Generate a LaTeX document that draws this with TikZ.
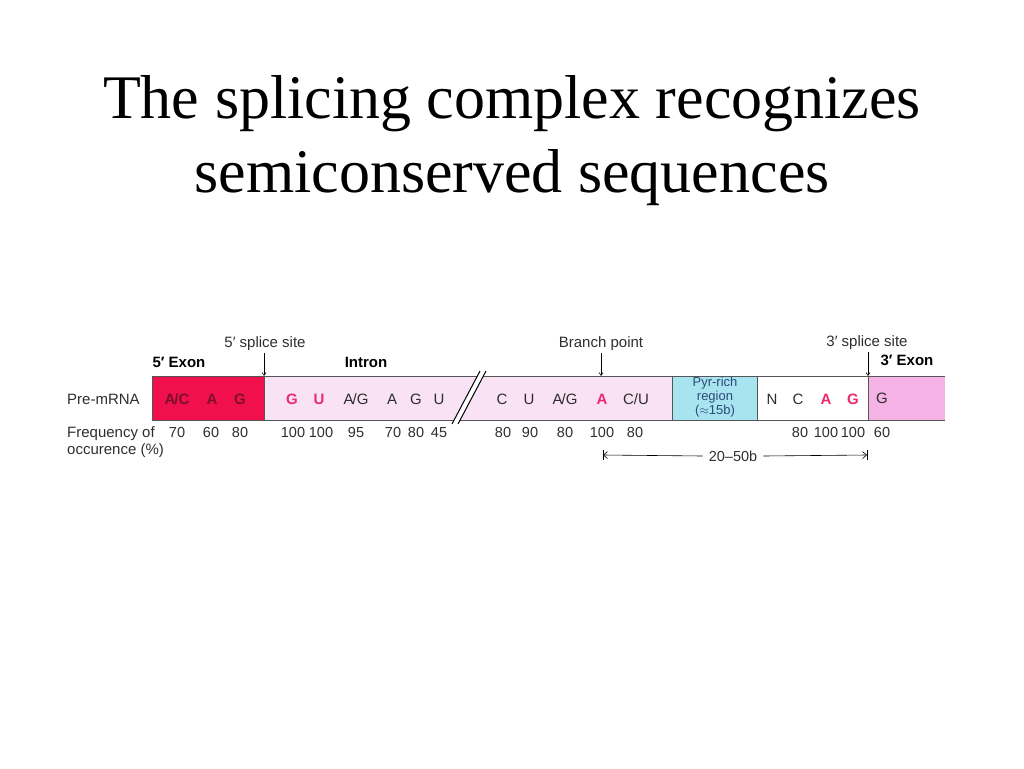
\documentclass[tikz,border=0pt]{standalone}
\usepackage{fontspec}
\setmainfont{Liberation Serif}
\newfontfamily\labfont{Liberation Sans}
\usepackage{tikz}
\usetikzlibrary{arrows.meta}
\usepackage{xcolor}
\definecolor{exonred}{HTML}{F2104C}
\definecolor{exonink}{HTML}{7A0F2C}
\definecolor{intronpink}{HTML}{F8E2F4}
\definecolor{exonpink}{HTML}{F5B2E4}
\definecolor{pyrcyan}{HTML}{A8E4F0}
\definecolor{pyrink}{HTML}{2C4A78}
\definecolor{hotpink}{HTML}{EC2A6E}
\definecolor{barline}{HTML}{555555}
\definecolor{labink}{HTML}{2E2E2E}

\begin{document}
\begin{tikzpicture}[x=1pt,y=-1pt,
	lab/.style={font=\labfont\fontsize{15}{17}\selectfont, text=labink, inner sep=0pt},
	head/.style={font=\labfont\bfseries\fontsize{15}{17}\selectfont, text=black, inner sep=0pt},
	seq/.style={font=\labfont\fontsize{15}{17}\selectfont, text=labink, inner sep=0pt},
	hot/.style={seq, text=hotpink, font=\labfont\bfseries\fontsize{15}{17}\selectfont},
	freq/.style={font=\labfont\fontsize{14.5}{17}\selectfont, text=labink, inner sep=0pt},
	edge/.style={barline, line width=0.9pt},
	site/.style={-{Straight Barb[length=3pt,width=4pt]}, line width=0.6pt},
	span/.style={-{Straight Barb[length=4pt,width=7pt]}, line width=0.6pt}]
	\useasboundingbox (0,0) rectangle (1024,768);
	\node[font=\fontsize{62}{74}\selectfont, align=center] (title) at (512,141)
		{The splicing complex recognizes\\semiconserved sequences};
	\fill[exonred] (152,376) rectangle (264,420);
	\fill[intronpink] (264,376) rectangle (672,420);
	\fill[pyrcyan] (672,376) rectangle (757,420);
	\fill[white] (757,376) rectangle (868,420);
	\fill[exonpink] (868,376) rectangle (945,420);
	\draw[edge] (152,376) -- (945,376);
	\draw[edge] (152,420) -- (945,420);
	\draw[edge] (152,376) -- (152,420);
	\draw[edge] (264,376) -- (264,420);
	\draw[edge] (672,376) -- (672,420);
	\draw[edge] (757,376) -- (757,420);
	\draw[edge] (868,376) -- (868,420);
	\fill[white] (452,424) -- (480,371) -- (486,371) -- (458,424) -- cycle;
	\draw[line width=1pt] (452,424) -- (480,371);
	\draw[line width=1pt] (458,424) -- (486,371);
	\node[head] (exon5) at (179,362) {5′ Exon};
	\node[head] (intron) at (366,362) {Intron};
	\node[head] (exon3) at (907,360) {3′ Exon};
	\node[lab] (ss5) at (265,344) {5′ splice site};
	\node[lab] (branch) at (601,344) {Branch point};
	\node[lab] (ss3) at (867,343) {3′ splice site};
	\coordinate (ss5tip) at (264,376);
	\coordinate (branchtip) at (601,376);
	\coordinate (ss3tip) at (868,376);
	\draw[site] (264,353) -- (ss5tip);
	\draw[site] (601,353) -- (branchtip);
	\draw[site] (868,352) -- (ss3tip);
	\node[lab, anchor=west] (premrna) at (67,399) {Pre-mRNA};
	\node[lab, anchor=west] (freqA) at (67,434) {Frequency of};
	\node[lab, anchor=west] (freqB) at (67,451) {occurence (\%)};
	\foreach \x/\t [count=\i] in {177/{A\kern-1pt/C}, 212/A, 240/G}
		\node[seq, text=exonink, font=\labfont\bfseries\fontsize{15}{17}\selectfont] (e5s\i) at (\x,399) {\t};
	\node[hot] (gu1) at (292,399) {G};
	\node[hot] (gu2) at (319,399) {U};
	\foreach \x/\t [count=\i] in {356/{A\kern-1pt/G}, 392/A, 416/G, 439/U}
		\node[seq] (ins\i) at (\x,399) {\t};
	\foreach \x/\t [count=\i] in {502/C, 529/U, 565/{A\kern-1pt/G}, 636/{C/U}}
		\node[seq] (brs\i) at (\x,399) {\t};
	\node[hot] (bpA) at (602,399) {A};
	\node[font=\labfont\fontsize{13}{14}\selectfont, text=pyrink, align=center, inner sep=0pt] (pyr) at (715,397)
		{Pyr-rich\\region\\(\(\approx\)15b)};
	\node[seq] (nN) at (772,399) {N};
	\node[seq] (nC) at (798,399) {C};
	\node[hot] (agA) at (826,399) {A};
	\node[hot] (agG) at (853,399) {G};
	\node[seq] (e3G) at (882,398) {G};
	\foreach \x/\t [count=\i] in {177/70, 211/60, 240/80, 293/100, 321/100, 356/95,
		393/70, 416/80, 439/45, 503/80, 530/90, 565/80, 602/100, 635/80,
		800/80, 826/100, 853/100, 882/60}
		\node[freq] (f\i) at (\x,433) {\t};
	\node[freq] (spantext) at (733,456) {20–50b};
	\coordinate (spanL) at (603,455);
	\coordinate (spanR) at (867,455);
	\draw[span] ([xshift=-6pt]spantext.west) -- (spanL);
	\draw[span] ([xshift=6pt]spantext.east) -- (spanR);
	\draw[line width=0.7pt] ([yshift=-5pt]spanL) -- ([yshift=5pt]spanL);
	\draw[line width=0.7pt] ([yshift=-5pt]spanR) -- ([yshift=5pt]spanR);
\end{tikzpicture}
\end{document}
